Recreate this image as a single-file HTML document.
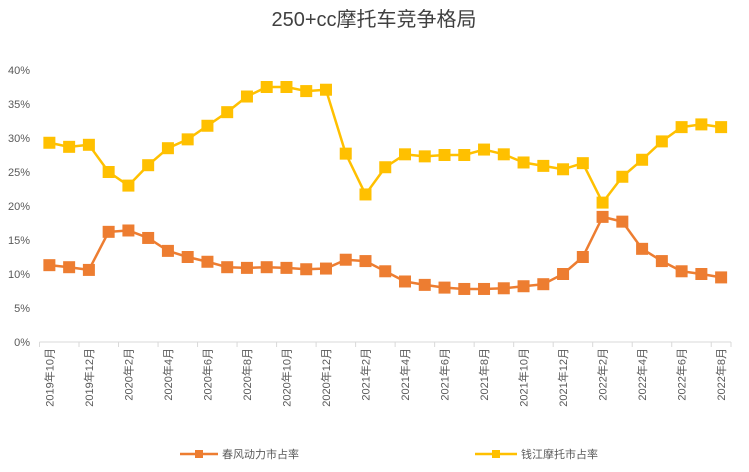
<!DOCTYPE html>
<html><head><meta charset="utf-8"><style>
body{margin:0;background:#fff;font-family:"Liberation Sans","Noto Sans CJK SC",sans-serif}
</style></head><body>
<svg id="c" width="749" height="467" xmlns="http://www.w3.org/2000/svg">
<text x="374" y="26" text-anchor="middle" font-size="20" fill="#404040" font-family="Liberation Sans,Noto Sans CJK SC,sans-serif">250+cc摩托车竞争格局</text>
<g id="yax"></g><g id="xax"></g><g id="series"></g>
<g font-size="11" fill="#595959" font-family="Liberation Sans,Noto Sans CJK SC,sans-serif">
<g>
<line x1="180" y1="454" x2="218" y2="454" stroke="#ED7D31" stroke-width="2.5"/>
<rect x="195" y="450" width="8" height="8" fill="#ED7D31"/>
<text x="222" y="458">春风动力市占率</text></g>
<g>
<line x1="475" y1="454" x2="517" y2="454" stroke="#FFC000" stroke-width="2.5"/>
<rect x="492" y="450" width="8" height="8" fill="#FFC000"/>
<text x="521" y="458">钱江摩托市占率</text></g>
</g>
</svg>
<script>
const categories=["2019年10月","2019年11月","2019年12月","2020年1月","2020年2月","2020年3月","2020年4月","2020年5月","2020年6月","2020年7月","2020年8月","2020年9月","2020年10月","2020年11月","2020年12月","2021年1月","2021年2月","2021年3月","2021年4月","2021年5月","2021年6月","2021年7月","2021年8月","2021年9月","2021年10月","2021年11月","2021年12月","2022年1月","2022年2月","2022年3月","2022年4月","2022年5月","2022年6月","2022年7月","2022年8月"];
const chunfeng=[11.3,11.0,10.6,16.2,16.4,15.3,13.4,12.5,11.8,11.0,10.9,11.0,10.9,10.7,10.8,12.1,11.9,10.4,8.9,8.4,8.0,7.8,7.8,7.9,8.2,8.5,10.0,12.5,18.4,17.7,13.7,11.9,10.4,10.0,9.5];
const qianjiang=[29.3,28.7,29.0,25.0,23.0,26.0,28.5,29.8,31.8,33.8,36.1,37.5,37.5,36.9,37.1,27.7,21.7,25.7,27.6,27.3,27.5,27.5,28.3,27.6,26.4,25.9,25.4,26.3,20.5,24.3,26.8,29.5,31.6,32.0,31.6];
const yTicks=[0,5,10,15,20,25,30,35,40];
const NS="http://www.w3.org/2000/svg";
const x0=39.5,x1=731,y0=342,yTop=70,yMax=40;
const slot=(x1-x0)/categories.length;
const X=i=>x0+slot*(i+0.5);
const Y=v=>y0-(v/yMax)*(y0-yTop);
function mk(tag,attrs,parent){const e=document.createElementNS(NS,tag);for(const k in attrs)e.setAttribute(k,attrs[k]);parent.appendChild(e);return e;}
const yax=document.getElementById('yax'),xax=document.getElementById('xax'),ser=document.getElementById('series');
yTicks.forEach(t=>{const e=mk('text',{x:30,y:Y(t)+4,'text-anchor':'end','font-size':11,fill:'#595959'},yax);e.textContent=t+'%';

});
const ax=mk('line',{x1:x0,x2:x1,y1:y0,y2:y0,stroke:'#d9d9d9','stroke-width':1},xax);


categories.forEach((c,i)=>{
 if(i%2===0){
  const tx=x0+slot*i;
  mk('line',{x1:tx,x2:tx,y1:y0,y2:y0+5,stroke:'#d9d9d9'},xax);
  const cx=X(i)+4;
  const e=mk('text',{x:cx,y:y0+6,'text-anchor':'end','font-size':11,fill:'#595959',transform:`rotate(-90 ${cx} ${y0+6})`},xax);
  e.textContent=c;
  
  
 }
});
mk('line',{x1:x1,x2:x1,y1:y0,y2:y0+5,stroke:'#d9d9d9'},xax);
function draw(data,color,name){
 const g=mk('g',{},ser);
 
 
 const p=mk('polyline',{points:data.map((v,i)=>X(i)+','+Y(v)).join(' '),fill:'none',stroke:color,'stroke-width':2.5,'stroke-linejoin':'round'},g);
 
 
 data.forEach((v,i)=>{const r=mk('rect',{x:X(i)-6,y:Y(v)-6,width:12,height:12,fill:color},g);
 
 });
}
draw(qianjiang,'#FFC000','qianjiang-series');
draw(chunfeng,'#ED7D31','chunfeng-series');
</script>
</body></html>
